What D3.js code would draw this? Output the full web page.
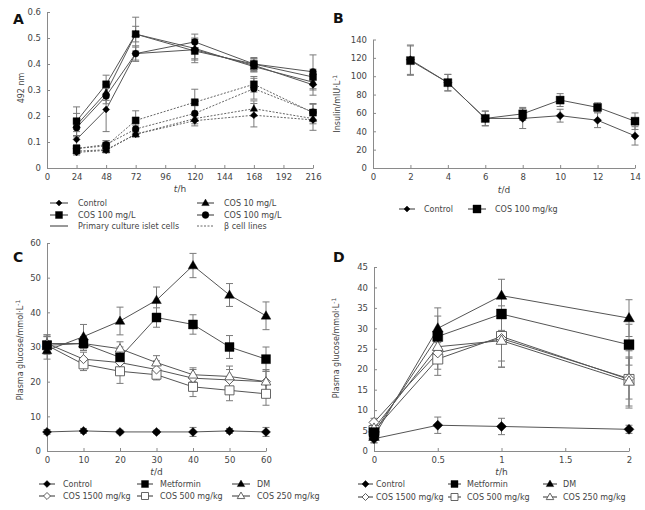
<!DOCTYPE html>
<html><head><meta charset="utf-8">
<script src="https://cdn.jsdelivr.net/npm/d3@7"></script>
<style>
body{margin:0;background:#fff;}
svg{display:block;font-family:"DejaVu Sans",Verdana,sans-serif;}
</style></head>
<body><svg id="c" width="645" height="510"></svg>
<script>
// ---------- Panel A data ----------
const aHours = [24, 48, 72, 120, 168, 216];
const aXTicks = [0, 24, 48, 72, 96, 120, 144, 168, 192, 216];
const aYTicks = [0, 0.1, 0.2, 0.3, 0.4, 0.5, 0.6];
const aPrimControl = [0.11, 0.225, 0.44, 0.455, 0.395, 0.32];
const aPrimControlErr = [0.03, 0.085, 0.03, 0.04, 0.025, 0.04];
const aPrimCos10 = [0.165, 0.29, 0.515, 0.46, 0.39, 0.33];
const aPrimCos10Err = [0.045, 0.03, 0.03, 0.04, 0.02, 0.03];
const aPrimCos100 = [0.18, 0.322, 0.515, 0.45, 0.4, 0.35];
const aPrimCos100Err = [0.055, 0.035, 0.065, 0.045, 0.025, 0.03];
const aPrimCos1000 = [0.155, 0.277, 0.44, 0.485, 0.4, 0.37];
const aPrimCos1000Err = [0.03, 0.03, 0.025, 0.03, 0.02, 0.065];
const aLineControl = [0.06, 0.068, 0.13, 0.182, 0.203, 0.185];
const aLineControlErr = [0.01, 0.01, 0.01, 0.02, 0.045, 0.04];
const aLineCos10 = [0.065, 0.07, 0.13, 0.19, 0.228, 0.19];
const aLineCos10Err = [0.01, 0.01, 0.01, 0.02, 0.03, 0.02];
const aLineCos100 = [0.075, 0.085, 0.183, 0.253, 0.322, 0.213];
const aLineCos100Err = [0.015, 0.02, 0.037, 0.05, 0.03, 0.035];
const aLineCos1000 = [0.075, 0.09, 0.15, 0.21, 0.305, 0.215];
const aLineCos1000Err = [0.01, 0.015, 0.015, 0.03, 0.04, 0.03];

// ---------- Panel B data ----------
const bDays = [2, 4, 6, 8, 10, 12, 14];
const bXTicks = [0, 2, 4, 6, 8, 10, 12, 14];
const bYTicks = [0, 20, 40, 60, 80, 100, 120, 140];
const bControl = [118, 93, 54, 54, 57, 52, 35];
const bControlErr = [16, 9, 8, 11, 7, 8, 10];
const bCos = [117, 93, 54, 59, 74, 66, 51];
const bCosErr = [16, 9, 8, 7, 7, 5, 9];

// ---------- Panel C data ----------
const cDays = [0, 10, 20, 30, 40, 50, 60];
const cXTicks = [0, 10, 20, 30, 40, 50, 60];
const cYTicks = [0, 10, 20, 30, 40, 50, 60];
const cControl = [5.5, 5.8, 5.5, 5.5, 5.5, 5.8, 5.5];
const cControlErr = [0.7, 0.7, 0.5, 0.5, 1.3, 0.7, 1.3];
const cMetformin = [30.5, 31, 27, 38.5, 36.5, 30, 26.5];
const cMetforminErr = [2.5, 2, 3, 2.8, 2.8, 3.3, 3.5];
const cDM = [29, 33, 37.5, 43.5, 53.5, 45, 39];
const cDMErr = [2.5, 3.5, 4, 3.8, 3.5, 3.3, 4];
const cCos1500 = [31, 26.5, 25.5, 23.5, 21, 20.5, 20];
const cCos1500Err = [2.5, 2, 2, 2.5, 2.5, 3, 3];
const cCos500 = [30.5, 25, 23, 22, 18.5, 17.5, 16.5];
const cCos500Err = [2.5, 1.8, 3.5, 1.5, 2.8, 3, 3.3];
const cCos250 = [31, 31, 29.5, 25.5, 22, 21.5, 20];
const cCos250Err = [2.5, 2, 2, 2, 2, 3, 3.5];

// ---------- Panel D data ----------
const dHours = [0, 0.5, 1, 2];
const dXTicks = [0, 0.5, 1, 1.5, 2];
const dYTicks = [0, 5, 10, 15, 20, 25, 30, 35, 40, 45];
const dControl = [3, 6.3, 6, 5.3];
const dControlErr = [1, 2, 2, 1];
const dMetformin = [4.5, 28, 33.5, 26];
const dMetforminErr = [1.5, 5, 4, 5];
const dDM = [3.5, 30, 38, 32.5];
const dDMErr = [1.5, 5, 4, 4.5];
const dCos1500 = [7, 24, 27.5, 17.7];
const dCos1500Err = [1, 4, 5.5, 5];
const dCos500 = [5, 22.5, 28, 17.5];
const dCos500Err = [1, 4, 7.5, 7];
const dCos250 = [5.5, 25.5, 27, 17];
const dCos250Err = [1, 4, 6.5, 6];

const svg = d3.select("#c");
const AXIS = "#8a8a8a", LINE = "#555", ERR = "#7a7a7a", TXT = "#444";

function symType(s){
  return {diamond:d3.symbolSquare, square:d3.symbolSquare, triangle:d3.symbolTriangle, circle:d3.symbolCircle}[s];
}
function marker(g, x, y, shape, filled, size){
  const area = shape==="diamond" ? size*size*0.5 : shape==="triangle" ? size*size*0.5 : shape==="circle" ? size*size*0.75 : size*size;
  g.append("path").attr("d", d3.symbol().type(symType(shape)).size(area)())
    .attr("transform", `translate(${x},${y + (shape==="triangle"? size*0.06:0)})` + (shape==="diamond" ? " rotate(45)" : ""))
    .attr("fill", filled ? "#000" : "#fff")
    .attr("stroke", filled ? "#000" : "#555").attr("stroke-width", filled?0.4:0.9);
}

function panel(cfg){
  const g = svg.append("g");
  const x = d3.scaleLinear().domain(cfg.xDomain).range(cfg.xRange);
  const y = d3.scaleLinear().domain(cfg.yDomain).range(cfg.yRange);
  const xa = g.append("g").attr("transform", `translate(0,${cfg.yRange[0]})`)
    .call(d3.axisBottom(x).tickValues(cfg.xTicks).tickSizeInner(-3).tickSizeOuter(0).tickPadding(6).tickFormat(cfg.xFmt||d3.format("")));
  const ya = g.append("g").attr("transform", `translate(${cfg.xRange[0]},0)`)
    .call(d3.axisLeft(y).tickValues(cfg.yTicks).tickSizeInner(-3).tickSizeOuter(0).tickPadding(6).tickFormat(cfg.yFmt||d3.format("")));
  [xa, ya].forEach(a=>{
    a.selectAll("path,line").attr("stroke", AXIS);
    a.selectAll("text").attr("fill", TXT).style("font-size","8.5px").style("font-family","DejaVu Sans, sans-serif");
  });
  // panel label
  g.append("text").attr("x", cfg.label[1]).attr("y", cfg.label[2]).text(cfg.label[0])
    .style("font-size","14px").style("font-weight","bold").attr("fill","#111");
  // x title
  const xt = g.append("text").attr("x", (cfg.xRange[0]+cfg.xRange[1])/2).attr("y", cfg.yRange[0]+cfg.xTitleDy)
    .attr("text-anchor","middle").style("font-size","9px").attr("fill",TXT);
  xt.append("tspan").text("t").style("font-style","italic");
  xt.append("tspan").text(cfg.xUnit);
  // y title
  const yt = g.append("text").attr("transform", `translate(${cfg.yTitleX},${cfg.yTitleY || (cfg.yRange[0]+cfg.yRange[1])/2}) rotate(-90)`)
    .attr("text-anchor","middle").style("font-size","8px").attr("fill",TXT);
  yt.append("tspan").text(cfg.yTitle);
  if (cfg.yTitleSup){
    yt.append("tspan").text(cfg.yTitleSup).attr("dy",-3.5).style("font-size","6px");
  }
  // series
  const line = d3.line().x(d=>x(d[0])).y(d=>y(d[1]));
  cfg.series.forEach(s=>{
    const pts = cfg.xs.map((v,i)=>[v, s.v[i], s.e[i]]);
    const sg = g.append("g");
    pts.forEach(p=>{
      const cx = x(p[0]), t = y(p[1]+p[2]), b = y(Math.max(0,p[1]-p[2]));
      sg.append("line").attr("x1",cx).attr("x2",cx).attr("y1",t).attr("y2",b).attr("stroke",ERR).attr("stroke-width",1);
      [t,b].forEach(yy=>sg.append("line").attr("x1",cx-3.5).attr("x2",cx+3.5).attr("y1",yy).attr("y2",yy).attr("stroke",ERR).attr("stroke-width",1));
    });
    sg.append("path").attr("d", line(pts)).attr("fill","none").attr("stroke", s.dash? "#666":LINE)
      .attr("stroke-width", 1).attr("stroke-dasharray", s.dash ? "2,1.5" : null);
  });
  cfg.series.forEach(s=>{
    cfg.xs.forEach((v,i)=>marker(g, x(v), y(s.v[i]), s.shape, s.filled, cfg.msize));
  });
  // legend
  cfg.legend.forEach(l=>{
    g.append("line").attr("x1",l.x).attr("x2",l.x+l.w).attr("y1",l.y).attr("y2",l.y)
      .attr("stroke", l.dash? "#666":"#333").attr("stroke-width",1).attr("stroke-dasharray", l.dash? "2,1.5":null);
    if (l.shape) marker(g, l.x+l.w/2, l.y, l.shape, l.filled, l.ms || cfg.msize);
    g.append("text").attr("x", l.tx).attr("y", l.y+3).text(l.text).style("font-size","8px").attr("fill",TXT);
  });
}

// Panel A
panel({
  xDomain:[0,216], xRange:[47,313], yDomain:[0,0.6], yRange:[168,12],
  xTicks:aXTicks, yTicks:aYTicks, yFmt:d=>d===0?"0":d3.format(".1f")(d),
  label:["A",13,24], xUnit:"/h", xTitleDy:24, yTitle:"492 nm", yTitleX:24, yTitleY:88, msize:7, xs:aHours,
  series:[
    {v:aPrimControl, e:aPrimControlErr, shape:"diamond", filled:true},
    {v:aPrimCos10, e:aPrimCos10Err, shape:"triangle", filled:true},
    {v:aPrimCos1000, e:aPrimCos1000Err, shape:"circle", filled:true},
    {v:aPrimCos100, e:aPrimCos100Err, shape:"square", filled:true},
    {v:aLineControl, e:aLineControlErr, shape:"diamond", filled:true, dash:true},
    {v:aLineCos10, e:aLineCos10Err, shape:"triangle", filled:true, dash:true},
    {v:aLineCos1000, e:aLineCos1000Err, shape:"circle", filled:true, dash:true},
    {v:aLineCos100, e:aLineCos100Err, shape:"square", filled:true, dash:true}
  ],
  legend:[
    {x:50,w:18,y:203,shape:"diamond",filled:true,tx:78,text:"Control",ms:6},
    {x:50,w:18,y:215,shape:"square",filled:true,tx:78,text:"COS 100 mg/L",ms:7},
    {x:50,w:18,y:226,tx:78,text:"Primary culture islet cells"},
    {x:197,w:17,y:203,shape:"triangle",filled:true,tx:224,text:"COS 10 mg/L",ms:7},
    {x:197,w:17,y:215,shape:"circle",filled:true,tx:224,text:"COS 100 mg/L",ms:7},
    {x:197,w:17,y:226,dash:true,tx:224,text:"β cell lines"}
  ]
});

// Panel B
panel({
  xDomain:[0,14], xRange:[373,635], yDomain:[0,140], yRange:[168,39.5],
  xTicks:bXTicks, yTicks:bYTicks,
  label:["B",333,23], xUnit:"/d", xTitleDy:25, yTitle:"Insulin/mIU·L", yTitleSup:"-1", yTitleX:340, msize:8, xs:bDays,
  series:[
    {v:bControl, e:bControlErr, shape:"diamond", filled:true},
    {v:bCos, e:bCosErr, shape:"square", filled:true}
  ],
  legend:[
    {x:399,w:16,y:209,shape:"diamond",filled:true,tx:424,text:"Control",ms:6},
    {x:468,w:18,y:209,shape:"square",filled:true,tx:495,text:"COS 100 mg/kg",ms:8}
  ]
});

// Panel C
panel({
  xDomain:[0,60], xRange:[47,266], yDomain:[0,60], yRange:[451,243],
  xTicks:cXTicks, yTicks:cYTicks,
  label:["C",13,262], xUnit:"/d", xTitleDy:24, yTitle:"Plasma glucose/mmol·L", yTitleSup:"-1", yTitleX:23, yTitleY:350, msize:9, xs:cDays,
  series:[
    {v:cControl, e:cControlErr, shape:"diamond", filled:true},
    {v:cCos500, e:cCos500Err, shape:"square", filled:false},
    {v:cCos1500, e:cCos1500Err, shape:"diamond", filled:false},
    {v:cCos250, e:cCos250Err, shape:"triangle", filled:false},
    {v:cMetformin, e:cMetforminErr, shape:"square", filled:true},
    {v:cDM, e:cDMErr, shape:"triangle", filled:true}
  ],
  legend:[
    {x:39,w:16,y:484,shape:"diamond",filled:true,tx:63,text:"Control",ms:7},
    {x:137,w:16,y:484,shape:"square",filled:true,tx:160,text:"Metformin",ms:7},
    {x:232,w:18,y:484,shape:"triangle",filled:true,tx:257,text:"DM",ms:7},
    {x:39,w:16,y:496,shape:"diamond",filled:false,tx:63,text:"COS 1500 mg/kg",ms:7},
    {x:137,w:16,y:496,shape:"square",filled:false,tx:160,text:"COS 500 mg/kg",ms:7},
    {x:232,w:18,y:496,shape:"triangle",filled:false,tx:257,text:"COS 250 mg/kg",ms:7}
  ]
});

// Panel D
panel({
  xDomain:[0,2], xRange:[374,629], yDomain:[0,45], yRange:[451,267],
  xTicks:dXTicks, yTicks:dYTicks, xFmt:d3.format(""),
  label:["D",333,262], xUnit:"/h", xTitleDy:24, yTitle:"Plasma glucose/mmol·L", yTitleSup:"-1", yTitleX:339, yTitleY:348, msize:10, xs:dHours,
  series:[
    {v:dControl, e:dControlErr, shape:"diamond", filled:true},
    {v:dCos500, e:dCos500Err, shape:"square", filled:false},
    {v:dCos1500, e:dCos1500Err, shape:"diamond", filled:false},
    {v:dCos250, e:dCos250Err, shape:"triangle", filled:false},
    {v:dMetformin, e:dMetforminErr, shape:"square", filled:true},
    {v:dDM, e:dDMErr, shape:"triangle", filled:true}
  ],
  legend:[
    {x:358,w:15,y:484,shape:"diamond",filled:true,tx:376,text:"Control",ms:7},
    {x:448,w:13,y:484,shape:"square",filled:true,tx:467,text:"Metformin",ms:7},
    {x:543,w:14,y:484,shape:"triangle",filled:true,tx:563,text:"DM",ms:7},
    {x:358,w:15,y:497,shape:"diamond",filled:false,tx:376,text:"COS 1500 mg/kg",ms:7},
    {x:448,w:13,y:497,shape:"square",filled:false,tx:467,text:"COS 500 mg/kg",ms:7},
    {x:543,w:14,y:497,shape:"triangle",filled:false,tx:563,text:"COS 250 mg/kg",ms:7}
  ]
});
</script></body></html>
